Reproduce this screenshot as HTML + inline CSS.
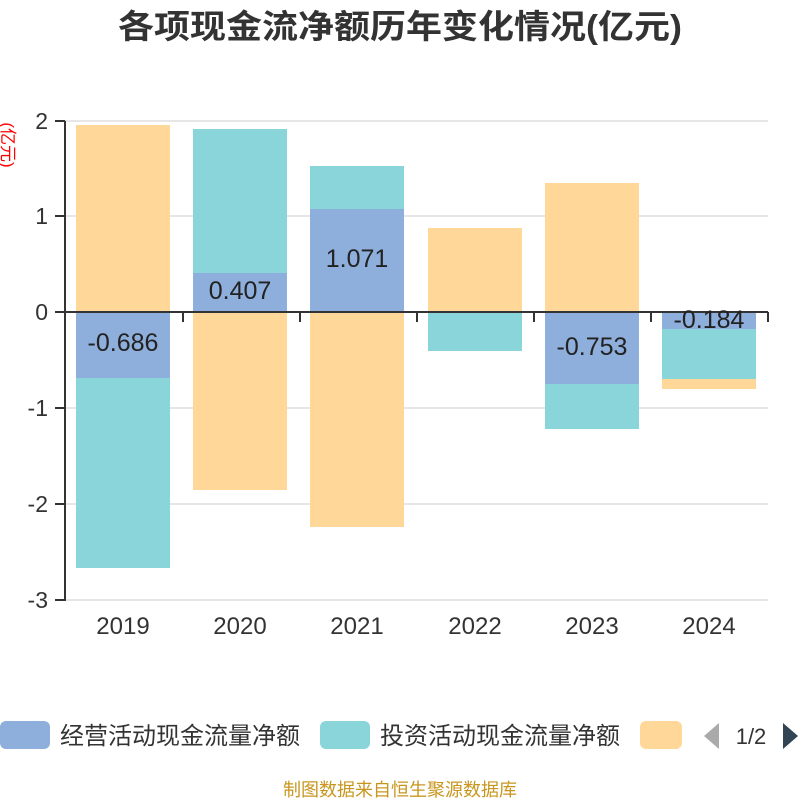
<!DOCTYPE html><html><head><meta charset="utf-8"><style>body{margin:0;background:#fff}svg{display:block}text{font-family:"Liberation Sans","Noto Sans CJK SC",sans-serif}</style></head><body>
<svg width="800" height="800" xmlns="http://www.w3.org/2000/svg">
<text x="400" y="38" text-anchor="middle" font-size="33" font-weight="bold" fill="#333" textLength="564" lengthAdjust="spacingAndGlyphs">各项现金流净额历年变化情况(亿元)</text>
<text transform="translate(2,145) rotate(90)" text-anchor="middle" font-size="17" fill="#f00">(亿元)</text>
<g stroke="#ccc" stroke-width="1">
<line x1="65" y1="121" x2="768" y2="121"/><line x1="65" y1="216" x2="768" y2="216"/><line x1="65" y1="408" x2="768" y2="408"/><line x1="65" y1="504" x2="768" y2="504"/><line x1="65" y1="600" x2="768" y2="600"/></g>
<g font-size="23" fill="#333" text-anchor="end">
<text x="48" y="129">2</text><text x="48" y="224">1</text><text x="48" y="320">0</text><text x="48" y="416">-1</text><text x="48" y="512">-2</text><text x="48" y="608">-3</text></g>
<g>
<rect x="76" y="125" width="94" height="187" fill="#ffd899"/><rect x="76" y="312" width="94" height="66" fill="#8eaedb"/><rect x="76" y="378" width="94" height="190" fill="#89d5da"/>
<rect x="193" y="129" width="94" height="144" fill="#89d5da"/><rect x="193" y="273" width="94" height="39" fill="#8eaedb"/><rect x="193" y="312" width="94" height="178" fill="#ffd899"/>
<rect x="310" y="166" width="94" height="43" fill="#89d5da"/><rect x="310" y="209" width="94" height="103" fill="#8eaedb"/><rect x="310" y="312" width="94" height="215" fill="#ffd899"/>
<rect x="428" y="228" width="94" height="84" fill="#ffd899"/><rect x="428" y="312" width="94" height="39" fill="#89d5da"/>
<rect x="545" y="183" width="94" height="129" fill="#ffd899"/><rect x="545" y="312" width="94" height="72" fill="#8eaedb"/><rect x="545" y="384" width="94" height="45" fill="#89d5da"/>
<rect x="662" y="312" width="94" height="17" fill="#8eaedb"/><rect x="662" y="329" width="94" height="50" fill="#89d5da"/><rect x="662" y="379" width="94" height="10" fill="#ffd899"/>
</g>
<g stroke="#333" stroke-width="2">
<line x1="65" y1="121" x2="65" y2="601"/>
<line x1="55" y1="121" x2="65" y2="121"/><line x1="55" y1="216" x2="65" y2="216"/><line x1="55" y1="312" x2="65" y2="312"/><line x1="55" y1="408" x2="65" y2="408"/><line x1="55" y1="504" x2="65" y2="504"/><line x1="55" y1="600" x2="65" y2="600"/>
<line x1="65" y1="312" x2="768" y2="312"/>
<line x1="183" y1="312" x2="183" y2="322"/><line x1="300" y1="312" x2="300" y2="322"/><line x1="417" y1="312" x2="417" y2="322"/><line x1="534" y1="312" x2="534" y2="322"/><line x1="651" y1="312" x2="651" y2="322"/><line x1="768" y1="312" x2="768" y2="322"/>
</g>
<g font-size="25" fill="#222" text-anchor="middle">
<text x="123" y="351">-0.686</text><text x="240" y="299">0.407</text><text x="357" y="267">1.071</text><text x="592" y="355">-0.753</text><text x="709" y="328">-0.184</text></g>
<g font-size="24" fill="#333" text-anchor="middle">
<text x="123" y="634">2019</text><text x="240" y="634">2020</text><text x="357" y="634">2021</text><text x="475" y="634">2022</text><text x="592" y="634">2023</text><text x="709" y="634">2024</text></g>
<rect x="0" y="721" width="50" height="28" rx="6" fill="#8eaedb"/>
<text x="60" y="744" font-size="24" fill="#333">经营活动现金流量净额</text>
<rect x="320" y="721" width="50" height="28" rx="6" fill="#89d5da"/>
<text x="380" y="744" font-size="24" fill="#333">投资活动现金流量净额</text>
<rect x="640" y="721" width="42" height="28" rx="6" fill="#ffd899"/>
<polygon points="719,723 719,749 704,736" fill="#aaa"/>
<text x="751" y="744" font-size="22" fill="#333" text-anchor="middle">1/2</text>
<polygon points="783,723 783,749 798,736" fill="#2f4554"/>
<text x="400" y="796" font-size="18" fill="#c8961e" text-anchor="middle">制图数据来自恒生聚源数据库</text>
</svg></body></html>
